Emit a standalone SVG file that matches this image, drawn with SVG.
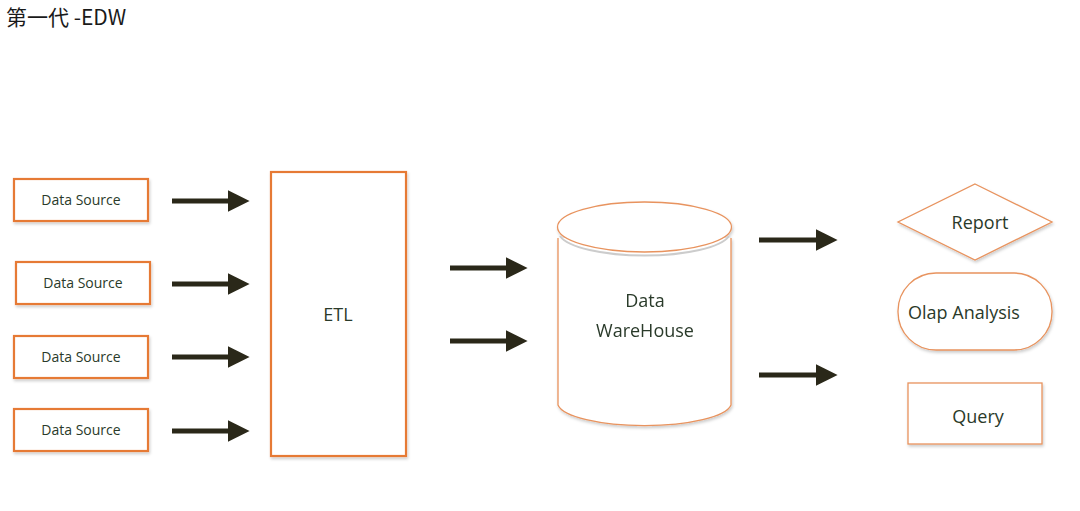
<svg xmlns="http://www.w3.org/2000/svg" width="1080" height="511" viewBox="0 0 1080 511">
<defs>
<style>
.box{fill:#fff;stroke:#e67a35;stroke-width:2.2}
.thin{fill:#fff;stroke:#e8935e;stroke-width:1.3}
.lbl{font-family:"Open Sans","Liberation Sans",sans-serif;fill:#2a3a2a;text-anchor:middle}
.arr{stroke:#2a2819;stroke-width:5;fill:none;marker-end:url(#ah)}
</style>
<marker id="ah" viewBox="0 0 10 10" refX="2" refY="5" markerWidth="4.4" markerHeight="4.4" orient="auto" markerUnits="strokeWidth">
<path d="M0,0 L10,5 L0,10 Z" fill="#2a2819"/>
</marker>
<filter id="sh" x="-10%" y="-10%" width="130%" height="130%">
<feDropShadow dx="1" dy="2" stdDeviation="1.5" flood-color="#000" flood-opacity="0.2"/>
</filter>
</defs>
<rect width="1080" height="511" fill="#fff"/>
<text x="6" y="25" font-family="'Noto Sans CJK SC','Open Sans',sans-serif" font-size="21" fill="#1a1a1a">第一代 -EDW</text>

<g id="connectors">
<line class="arr" x1="172" y1="201" x2="232" y2="201"/>
<line class="arr" x1="172" y1="284" x2="232" y2="284"/>
<line class="arr" x1="172" y1="357" x2="232" y2="357"/>
<line class="arr" x1="172" y1="431" x2="232" y2="431"/>
<line class="arr" x1="450" y1="268" x2="510" y2="268"/>
<line class="arr" x1="450" y1="341" x2="510" y2="341"/>
<line class="arr" x1="759" y1="240" x2="820" y2="240"/>
<line class="arr" x1="759" y1="375" x2="820" y2="375"/>
</g>

<g id="ds1"><rect class="box" x="14" y="179" width="134" height="42" filter="url(#sh)"/><text class="lbl" x="81" y="205" font-size="14">Data Source</text></g>
<g id="ds2"><rect class="box" x="16" y="262" width="134" height="42" filter="url(#sh)"/><text class="lbl" x="83" y="288" font-size="14">Data Source</text></g>
<g id="ds3"><rect class="box" x="14" y="336" width="134" height="42" filter="url(#sh)"/><text class="lbl" x="81" y="362" font-size="14">Data Source</text></g>
<g id="ds4"><rect class="box" x="14" y="409" width="134" height="42" filter="url(#sh)"/><text class="lbl" x="81" y="435" font-size="14">Data Source</text></g>

<g id="etl"><rect class="box" x="271" y="172" width="135" height="284" filter="url(#sh)"/><text class="lbl" x="338" y="321" font-size="18">ETL</text></g>

<g id="dw" filter="url(#sh)">
<path class="thin" d="M558,238 L558,405 A87,23 0 0 0 731,405 L731,238"/>
<ellipse class="thin" cx="644.5" cy="227" rx="87" ry="25"/>
<path d="M560,236 A86,24 0 0 0 729,236" fill="none" stroke="#ccc" stroke-width="2"/>
<text class="lbl" x="645" y="307" font-size="18">Data</text>
<text class="lbl" x="645" y="337" font-size="18">WareHouse</text>
</g>

<g id="report"><polygon class="thin" points="975,184 1052,222 975,260 898,222" filter="url(#sh)"/><text class="lbl" x="980" y="229" font-size="18">Report</text></g>
<g id="olap"><rect class="thin" x="898" y="273" width="154" height="77" rx="38" filter="url(#sh)"/><text class="lbl" x="964" y="319" font-size="18">Olap Analysis</text></g>
<g id="query"><rect class="thin" x="908" y="383" width="134" height="61" filter="url(#sh)"/><text class="lbl" x="978" y="423" font-size="18">Query</text></g>
</svg>
